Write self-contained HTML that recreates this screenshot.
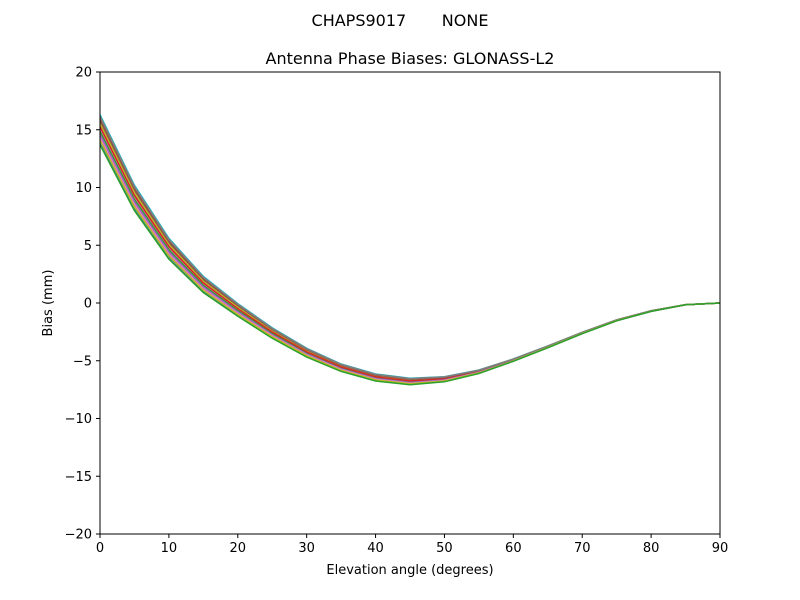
<!DOCTYPE html>
<html><head><meta charset="utf-8"><style>
body{margin:0;background:#fff;}
svg{display:block;font-family:"DejaVu Sans","Liberation Sans",sans-serif;}
</style></head><body>
<svg id="s" width="800" height="600" xmlns="http://www.w3.org/2000/svg">
<rect width="800" height="600" fill="#fff"/>
<text x="400" y="26" font-size="16" text-anchor="middle">CHAPS9017&#160;&#160;&#160;&#160;&#160;&#160;&#160;NONE</text>
<text x="410" y="64" font-size="16" text-anchor="middle">Antenna Phase Biases: GLONASS-L2</text>
<g id="lines"></g>
<rect x="100" y="72" width="620" height="462" fill="none" stroke="#000" stroke-width="1"/>
<g id="ticks" font-size="13"></g>
<text x="410" y="574" font-size="13" text-anchor="middle">Elevation angle (degrees)</text>
<text transform="translate(52,303) rotate(-90)" font-size="13" text-anchor="middle">Bias (mm)</text>
</svg>
<script>
var X=function(e){return 100+e*620/90;},Y=function(v){return 303-v*11.55;};
var c=[15,9.1,4.7,1.6,-0.6,-2.6,-4.3,-5.6,-6.45,-6.8,-6.6,-5.95,-4.95,-3.8,-2.6,-1.5,-0.7,-0.15,0];
var sp=[1.3,1.1,0.9,0.7,0.55,0.45,0.38,0.32,0.3,0.28,0.22,0.15,0.1,0.08,0.06,0.04,0.03,0.01,0];
var cols=["#1f77b4","#ff7f0e","#2ca02c","#d62728","#9467bd","#8c564b","#e377c2","#7f7f7f","#bcbd22","#17becf"];
var offs=[0.3,0.1,-0.6,0.5,-0.2,0.6,0.0,-0.4,0.4,1.0,-0.8,0.8,-0.1,0.2,-0.3,0.7,-0.5,0.9,-0.7,-1.0];
var g=document.getElementById('lines'),h='';
for(var k=0;k<offs.length;k++){var d='';for(var i=0;i<c.length;i++){d+=(i?'L':'M')+X(i*5).toFixed(1)+','+Y(c[i]+offs[k]*sp[i]).toFixed(1);}
var col=(k==offs.length-1)?"#2ca02c":cols[k%10];
h+='<path d="'+d+'" fill="none" stroke="'+col+'" stroke-width="1.5"/>';}
g.innerHTML=h;
var t='';
for(var e=0;e<=90;e+=10){var x=X(e);t+='<line x1="'+x+'" y1="534" x2="'+x+'" y2="538" stroke="#000"/><text x="'+x+'" y="552" text-anchor="middle">'+e+'</text>';}
for(var v=-20;v<=20;v+=5){var y=Y(v);t+='<line x1="96" y1="'+y+'" x2="100" y2="'+y+'" stroke="#000"/><text x="92" y="'+(y+4.5)+'" text-anchor="end">'+(v<0?'\u2212'+(-v):v)+'</text>';}
document.getElementById('ticks').innerHTML=t;
</script>
</body></html>
